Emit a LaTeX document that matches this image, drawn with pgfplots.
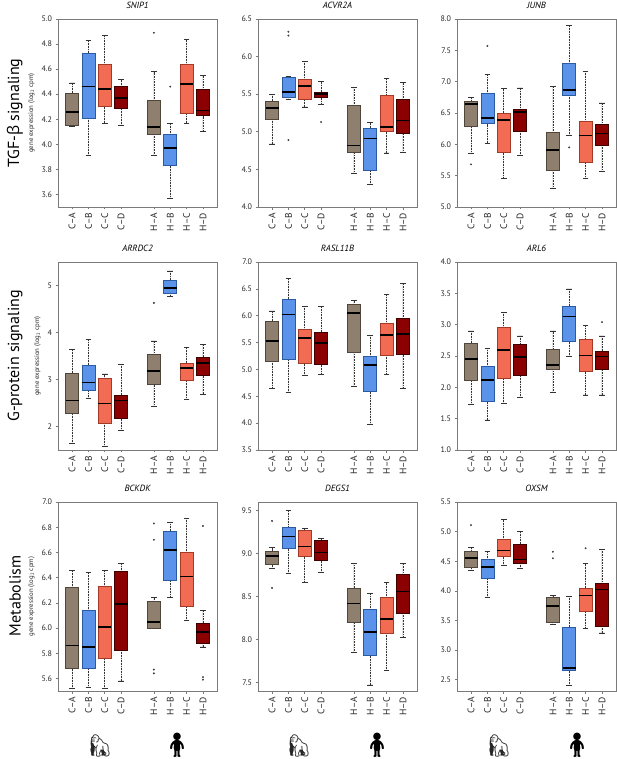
\documentclass[border=0pt]{standalone}
\usepackage{fontspec}
\setmainfont{PT Sans}
\newfontfamily\grk{Open Sans}
\newfontfamily\emoji{Noto Emoji}
\usepackage{pgfplots}
\pgfplotsset{compat=1.18}
\usepgfplotslibrary{statistics}

\definecolor{cAf}{HTML}{8E7F6F}\definecolor{cAd}{HTML}{4F453B}
\definecolor{cBf}{HTML}{5B93EA}\definecolor{cBd}{HTML}{2C5AA0}
\definecolor{cCf}{HTML}{F26B53}\definecolor{cCd}{HTML}{A33A28}
\definecolor{cDf}{HTML}{8B0000}\definecolor{cDd}{HTML}{3F0000}
\definecolor{frame}{HTML}{7A7A7A}

\tikzset{
 sA/.style={draw=cAd, fill=cAf},
 sB/.style={draw=cBd, fill=cBf},
 sC/.style={draw=cCd, fill=cCf},
 sD/.style={draw=cDd, fill=cDf},
}

% position, style, lower whisker, q1, median, q3, upper whisker
\newcommand\bx[7]{\addplot[#2, line width=0.6pt, boxplot prepared={draw direction=y, draw position=#1, lower whisker=#3, lower quartile=#4, median=#5, upper quartile=#6, upper whisker=#7}] coordinates {};}
\newcommand\outl[1]{\addplot[only marks, mark=*, mark size=0.75pt, black!75] coordinates {#1};}

\pgfplotsset{
 panel/.style={
  scale only axis, width=159pt, height=188pt, anchor=north west,
  xmin=0.14, xmax=9.86,
  xtick={1,2,3,4,6,7,8,9},
  xticklabels={C–A,C–B,C–C,C–D,H–A,H–B,H–C,H–D},
  xticklabel style={rotate=90, anchor=east, font=\fontsize{9.5}{9.5}\selectfont, text=black!85},
  yticklabel style={font=\fontsize{8}{8}\selectfont, text=black!85, /pgf/number format/.cd, fixed, fixed zerofill, precision=1},
  /pgf/number format/assume math mode=true,
  tick align=outside, tick pos=left, major tick length=2.5pt,
  axis line style={frame, line width=0.8pt},
  every tick/.style={frame, line width=0.6pt},
  title style={at={(0.5,1)}, anchor=south, yshift=1pt, font=\itshape\fontsize{9}{9}\selectfont},
  ylabel style={font=\fontsize{6.8}{6.8}\selectfont, text=black!85},
  boxplot/draw direction=y,
  boxplot/box extend=0.8,
  boxplot/whisker extend=0.34,
  boxplot/every median/.style={black, line width=1.6pt},
  boxplot/draw/lower whisker/.code={%
   \draw[densely dotted, black!80, line width=0.6pt]
    (boxplot box cs:\pgfplotsboxplotvalue{lower whisker},0.5) -- (boxplot box cs:\pgfplotsboxplotvalue{lower quartile},0.5);
   \draw[black!80, line width=0.65pt]
    (boxplot whisker cs:\pgfplotsboxplotvalue{lower whisker},0) -- (boxplot whisker cs:\pgfplotsboxplotvalue{lower whisker},1);
  },
  boxplot/draw/upper whisker/.code={%
   \draw[densely dotted, black!80, line width=0.6pt]
    (boxplot box cs:\pgfplotsboxplotvalue{upper quartile},0.5) -- (boxplot box cs:\pgfplotsboxplotvalue{upper whisker},0.5);
   \draw[black!80, line width=0.65pt]
    (boxplot whisker cs:\pgfplotsboxplotvalue{upper whisker},0) -- (boxplot whisker cs:\pgfplotsboxplotvalue{upper whisker},1);
  },
 }
}
\newcommand\ylab{gene expression (log\textsubscript{2} cpm)}

\begin{document}
\begin{tikzpicture}
\useasboundingbox (0,0) rectangle (617pt,-759pt);

% ---------------- Row 1 ----------------
\begin{axis}[panel, at={(58pt,-19pt)}, title={SNIP1}, ymin=3.5, ymax=5.0,
  ytick={3.6,3.8,4.0,4.2,4.4,4.6,4.8,5.0}, ylabel={\ylab}]
\bx{1}{sA}{4.14}{4.15}{4.26}{4.41}{4.49}
\bx{2}{sB}{3.91}{4.21}{4.46}{4.73}{4.83}
\bx{3}{sC}{4.17}{4.30}{4.44}{4.64}{4.87}
\bx{4}{sD}{4.15}{4.29}{4.37}{4.46}{4.52}
\bx{6}{sA}{3.91}{4.08}{4.14}{4.35}{4.58}
\bx{7}{sB}{3.57}{3.83}{3.97}{4.08}{4.17}
\bx{8}{sC}{4.17}{4.25}{4.48}{4.64}{4.84}
\bx{9}{sD}{4.10}{4.23}{4.27}{4.44}{4.55}
\outl{(6,4.89) (7,4.46)}
\end{axis}

\begin{axis}[panel, at={(258pt,-19pt)}, title={ACVR2A}, ymin=4.0, ymax=6.5,
  ytick={4.0,4.5,5.0,5.5,6.0,6.5}]
\bx{1}{sA}{4.84}{5.17}{5.32}{5.41}{5.50}
\bx{2}{sB}{5.43}{5.46}{5.53}{5.73}{5.74}
\bx{3}{sC}{5.33}{5.43}{5.61}{5.70}{5.94}
\bx{4}{sD}{5.36}{5.46}{5.50}{5.53}{5.67}
\bx{6}{sA}{4.45}{4.73}{4.82}{5.35}{5.59}
\bx{7}{sB}{4.30}{4.49}{4.91}{5.05}{5.12}
\bx{8}{sC}{4.72}{5.00}{5.06}{5.48}{5.71}
\bx{9}{sD}{4.73}{4.98}{5.15}{5.43}{5.66}
\outl{(2,6.33) (2,6.28) (2,4.89) (4,5.13)}
\end{axis}

\begin{axis}[panel, at={(457pt,-19pt)}, title={JUNB}, ymin=5.0, ymax=8.0,
  ytick={5.0,5.5,6.0,6.5,7.0,7.5,8.0}]
\bx{1}{sA}{5.86}{6.29}{6.64}{6.68}{6.75}
\bx{2}{sB}{6.02}{6.33}{6.42}{6.81}{7.11}
\bx{3}{sC}{5.45}{5.87}{6.39}{6.50}{6.89}
\bx{4}{sD}{5.82}{6.20}{6.52}{6.56}{6.90}
\bx{6}{sA}{5.30}{5.59}{5.91}{6.19}{6.92}
\bx{7}{sB}{6.14}{6.79}{6.87}{7.29}{7.90}
\bx{8}{sC}{5.46}{5.71}{6.14}{6.37}{7.16}
\bx{9}{sD}{5.57}{5.99}{6.17}{6.32}{6.66}
\outl{(1,5.68) (2,7.57) (7,5.95)}
\end{axis}

% ---------------- Row 2 ----------------
\begin{axis}[panel, at={(58pt,-262pt)}, title={ARRDC2}, ymin=1.5, ymax=5.5,
  ytick={2,3,4,5}, yticklabel style={/pgf/number format/precision=0}, ylabel={\ylab}]
\bx{1}{sA}{1.64}{2.29}{2.55}{3.14}{3.64}
\bx{2}{sB}{2.60}{2.77}{2.94}{3.31}{3.85}
\bx{3}{sC}{1.58}{2.07}{2.49}{3.02}{3.12}
\bx{4}{sD}{1.92}{2.17}{2.55}{2.67}{3.32}
\bx{6}{sA}{2.43}{2.89}{3.18}{3.54}{3.82}
\bx{7}{sB}{4.76}{4.84}{4.95}{5.12}{5.31}
\bx{8}{sC}{2.58}{2.99}{3.24}{3.35}{3.69}
\bx{9}{sD}{2.69}{3.10}{3.35}{3.48}{3.75}
\outl{(6,4.63)}
\end{axis}

\begin{axis}[panel, at={(258pt,-262pt)}, title={RASL11B}, ymin=3.5, ymax=7.0,
  ytick={3.5,4.0,4.5,5.0,5.5,6.0,6.5,7.0}]
\bx{1}{sA}{4.64}{5.15}{5.53}{5.90}{6.09}
\bx{2}{sB}{4.57}{5.18}{6.02}{6.31}{6.70}
\bx{3}{sC}{4.89}{5.12}{5.58}{5.75}{6.18}
\bx{4}{sD}{4.90}{5.10}{5.49}{5.70}{6.18}
\bx{6}{sA}{4.68}{5.32}{6.05}{6.21}{6.29}
\bx{7}{sB}{3.98}{4.60}{5.08}{5.24}{5.64}
\bx{8}{sC}{4.90}{5.26}{5.64}{5.86}{6.40}
\bx{9}{sD}{4.64}{5.28}{5.66}{5.95}{6.60}
\end{axis}

\begin{axis}[panel, at={(457pt,-262pt)}, title={ARL6}, ymin=1.0, ymax=4.0,
  ytick={1.0,1.5,2.0,2.5,3.0,3.5,4.0}]
\bx{1}{sA}{1.73}{2.11}{2.45}{2.71}{2.90}
\bx{2}{sB}{1.48}{1.77}{2.12}{2.33}{2.62}
\bx{3}{sC}{1.74}{2.15}{2.60}{2.96}{3.20}
\bx{4}{sD}{1.84}{2.20}{2.48}{2.68}{2.82}
\bx{6}{sA}{1.92}{2.29}{2.36}{2.60}{2.90}
\bx{7}{sB}{2.49}{2.74}{3.13}{3.30}{3.57}
\bx{8}{sC}{1.88}{2.25}{2.51}{2.76}{2.99}
\bx{9}{sD}{1.88}{2.29}{2.49}{2.58}{2.82}
\outl{(9,3.04)}
\end{axis}

% ---------------- Row 3 ----------------
\begin{axis}[panel, at={(58pt,-502pt)}, height=189pt, title={BCKDK}, ymin=5.5, ymax=7.0,
  ytick={5.6,5.8,6.0,6.2,6.4,6.6,6.8,7.0}, ylabel={\ylab}]
\bx{1}{sA}{5.52}{5.68}{5.86}{6.32}{6.46}
\bx{2}{sB}{5.53}{5.68}{5.85}{6.14}{6.44}
\bx{3}{sC}{5.52}{5.76}{6.01}{6.33}{6.46}
\bx{4}{sD}{5.58}{5.82}{6.19}{6.45}{6.51}
\bx{6}{sA}{6.00}{6.00}{6.05}{6.21}{6.24}
\bx{7}{sB}{6.24}{6.38}{6.62}{6.77}{6.84}
\bx{8}{sC}{6.06}{6.17}{6.41}{6.60}{6.87}
\bx{9}{sD}{5.85}{5.88}{5.97}{6.04}{6.14}
\outl{(6,6.83) (6,6.70) (6,5.67) (6,5.64) (9,6.81) (9,5.61) (9,5.59)}
\end{axis}

\begin{axis}[panel, at={(258pt,-502pt)}, height=189pt, title={DEGS1}, ymin=7.4, ymax=9.6,
  ytick={7.5,8.0,8.5,9.0,9.5}]
\bx{1}{sA}{8.83}{8.87}{8.97}{9.03}{9.07}
\bx{2}{sB}{8.77}{9.06}{9.20}{9.30}{9.50}
\bx{3}{sC}{8.66}{8.97}{9.08}{9.27}{9.29}
\bx{4}{sD}{8.78}{8.92}{9.01}{9.16}{9.18}
\bx{6}{sA}{7.85}{8.20}{8.42}{8.60}{8.89}
\bx{7}{sB}{7.47}{7.81}{8.09}{8.35}{8.54}
\bx{8}{sC}{7.64}{8.07}{8.24}{8.49}{8.66}
\bx{9}{sD}{8.02}{8.31}{8.56}{8.76}{8.89}
\outl{(1,9.38) (1,8.60)}
\end{axis}

\begin{axis}[panel, at={(457pt,-502pt)}, height=189pt, title={OXSM}, ymin=2.31, ymax=5.5,
  ytick={2.5,3.0,3.5,4.0,4.5,5.0,5.5}]
\bx{1}{sA}{4.35}{4.40}{4.55}{4.66}{4.74}
\bx{2}{sB}{3.89}{4.22}{4.40}{4.53}{4.66}
\bx{3}{sC}{4.43}{4.58}{4.68}{4.87}{5.21}
\bx{4}{sD}{4.38}{4.46}{4.53}{4.79}{5.01}
\bx{6}{sA}{3.43}{3.47}{3.74}{3.90}{3.93}
\bx{7}{sB}{2.40}{2.66}{2.70}{3.39}{3.91}
\bx{8}{sC}{3.36}{3.66}{3.92}{4.05}{4.46}
\bx{9}{sD}{3.29}{3.41}{4.02}{4.13}{4.70}
\outl{(1,5.11) (6,4.66) (6,4.55) (8,4.72)}
\end{axis}

% Row labels
\node[rotate=90, font=\fontsize{16}{16}\selectfont] at (15pt,-113pt) {TGF-{\grk β} signaling};
\node[rotate=90, font=\fontsize{16}{16}\selectfont] at (15pt,-356pt) {G-protein signaling};
\node[rotate=90, font=\fontsize{16}{16}\selectfont] at (15pt,-596pt) {Metabolism};

% Icons
\foreach \cx in {100,299,499}{
  \node[font=\emoji\fontsize{22}{22}\selectfont, text=black!85] at (\cx pt,-746pt) {🦍};
}
\foreach \hx in {177,377,577}{
  \node[font=\emoji\fontsize{24}{24}\selectfont, text=black] at (\hx pt,-745pt) {🧍};
}
\end{tikzpicture}
\end{document}
